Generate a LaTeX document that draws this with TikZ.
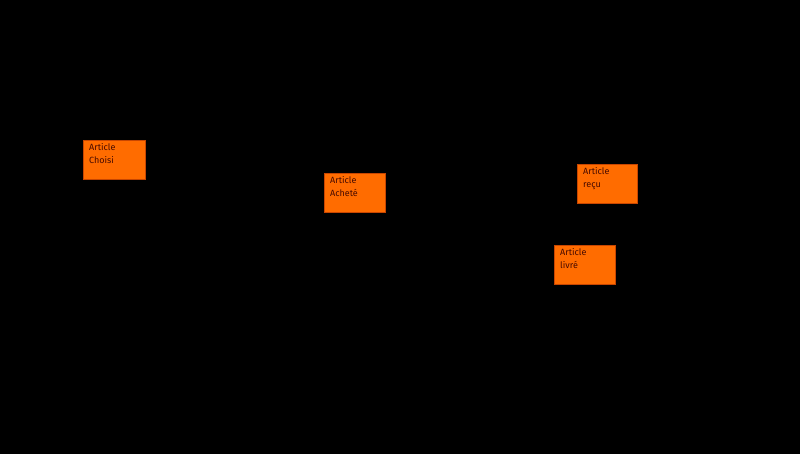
\documentclass[tikz,border=0pt]{standalone}
\usepackage{fontspec}
\setsansfont{Fira Sans}
\begin{document}
\begin{tikzpicture}[x=1pt,y=-1pt,
  card/.style={fill={rgb,255:red,255;green,108;blue,0},draw={rgb,255:red,200;green,70;blue,0},line width=0.6pt},
  lbl/.style={anchor=north west,align=left,font=\sffamily\fontsize{9}{13}\selectfont,text={rgb,255:red,70;green,10;blue,0},inner sep=0pt}]
\fill[black] (0,0) rectangle (800,454);
\useasboundingbox (0,0) rectangle (800,454);
\draw[card] (83,140) rectangle (145,179) node (b1) {};
\node[lbl] (t1) at (89,143) {Article\\Choisi};
\draw[card] (324,173) rectangle (385,212) node (b2) {};
\node[lbl] (t2) at (330,176) {Article\\Acheté};
\draw[card] (577,164) rectangle (637,203) node (b3) {};
\node[lbl] (t3) at (583,167) {Article\\reçu};
\draw[card] (554,245) rectangle (615,284) node (b4) {};
\node[lbl] (t4) at (560,248) {Article\\livré};
\end{tikzpicture}
\end{document}
